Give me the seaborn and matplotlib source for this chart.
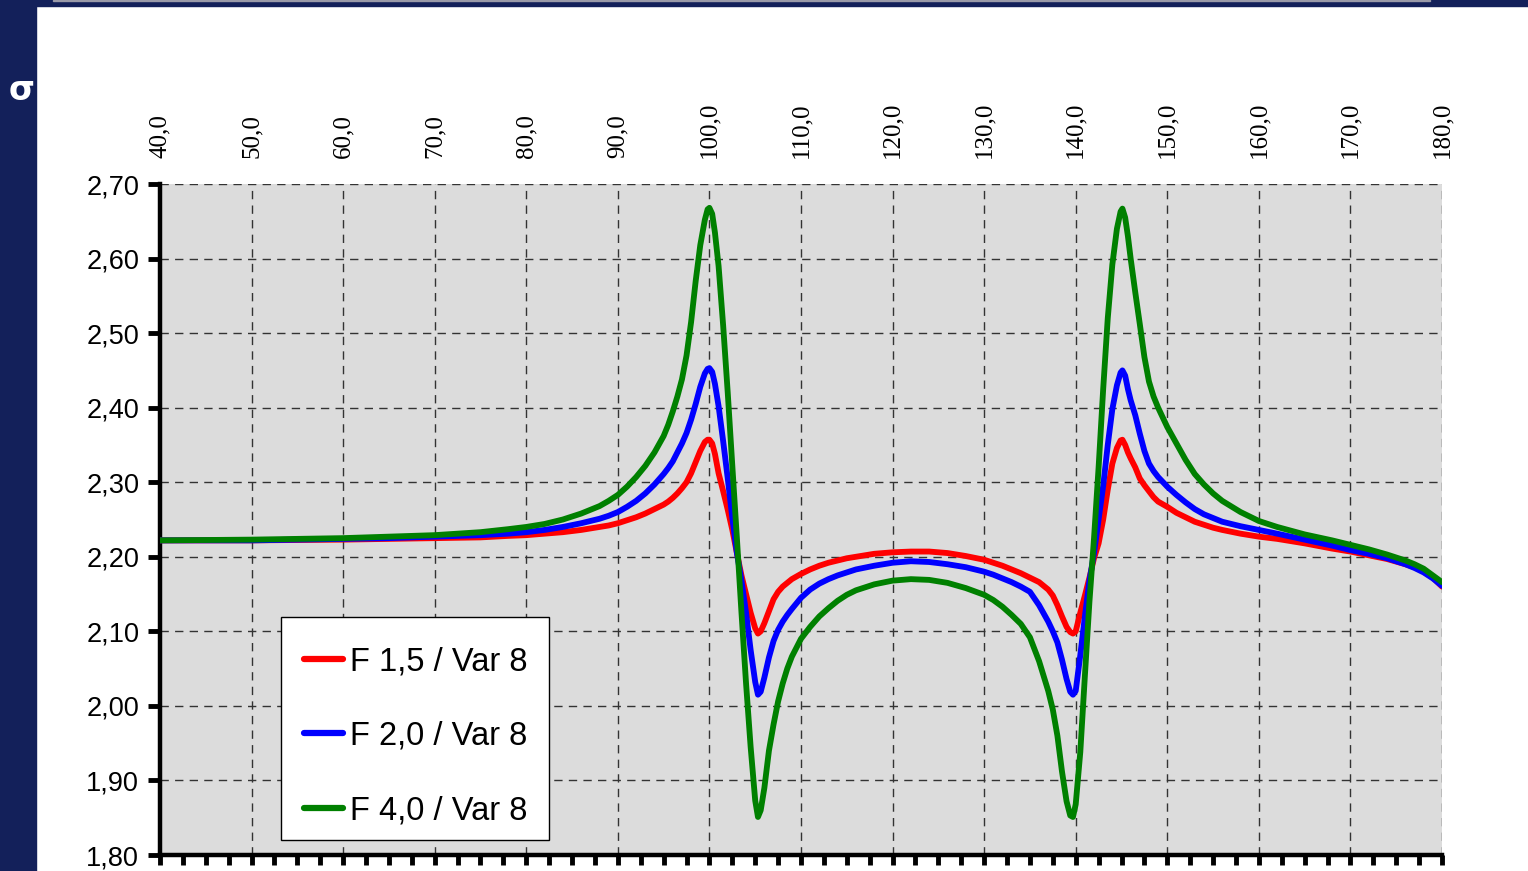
import numpy as np
import pandas as pd
import matplotlib
matplotlib.use("Agg")
import matplotlib.pyplot as plt
from matplotlib.patches import Rectangle
from matplotlib.ticker import MultipleLocator, FuncFormatter
import seaborn as sns

# ---------------- data ----------------
x_vals = [40, 50, 60, 65, 70, 75, 78, 80, 82, 84, 86, 88, 89, 90, 91, 92, 93, 94, 95, 95.5,
          96, 96.5, 97, 97.5, 98, 98.5, 99, 99.5, 99.8, 100, 100.3, 100.6, 101, 101.5, 102,
          102.5, 103, 103.5, 104, 104.5, 105, 105.3, 105.6, 106, 106.5, 107, 107.5, 108, 108.5,
          109, 110, 111, 112, 113, 114, 115, 116, 118, 120, 122, 124, 126, 128, 130, 131, 132,
          133, 134, 135, 136, 137, 137.5, 138, 138.5, 139, 139.4, 139.7, 140, 140.5, 141, 141.5,
          142, 142.5, 143, 143.5, 144, 144.5, 144.9, 145.1, 145.4, 145.7, 146, 146.5, 147, 147.5,
          148, 148.5, 149, 150, 151, 152, 153, 154, 155, 156, 158, 160, 162, 165, 168, 170, 172,
          174, 176, 177, 178, 179, 180]

f15_var8 = [2.222, 2.222, 2.223, 2.224, 2.225, 2.226, 2.228, 2.229, 2.231, 2.233, 2.236, 2.240, 2.242, 2.245, 2.249, 2.253, 2.258, 2.264, 2.270, 2.274,
            2.279, 2.285, 2.292, 2.300, 2.312, 2.327, 2.342, 2.354, 2.357, 2.357, 2.352, 2.338, 2.312, 2.288, 2.263,
            2.236, 2.205, 2.175, 2.150, 2.125, 2.104, 2.097, 2.100, 2.111, 2.127, 2.143, 2.153, 2.160, 2.165,
            2.170, 2.177, 2.183, 2.188, 2.192, 2.195, 2.198, 2.200, 2.204, 2.206, 2.207, 2.207, 2.205, 2.201, 2.196, 2.192, 2.188,
            2.183, 2.178, 2.172, 2.166, 2.156, 2.148, 2.135, 2.120, 2.106, 2.099, 2.097, 2.100, 2.125, 2.148, 2.172,
            2.198, 2.218, 2.250, 2.290, 2.325, 2.346, 2.356, 2.357, 2.350, 2.340, 2.332, 2.320, 2.305, 2.296,
            2.288, 2.280, 2.274, 2.267, 2.259, 2.253, 2.247, 2.243, 2.239, 2.236, 2.231, 2.227, 2.224, 2.218, 2.211, 2.207, 2.202,
            2.197, 2.190, 2.186, 2.180, 2.172, 2.160]

f20_var8 = [2.222, 2.222, 2.224, 2.225, 2.227, 2.229, 2.231, 2.233, 2.236, 2.240, 2.245, 2.251, 2.255, 2.260, 2.267, 2.275, 2.285, 2.297, 2.311, 2.319,
            2.328, 2.340, 2.352, 2.366, 2.384, 2.405, 2.428, 2.446, 2.452, 2.453, 2.448, 2.432, 2.402, 2.355, 2.305,
            2.252, 2.205, 2.168, 2.125, 2.075, 2.032, 2.015, 2.019, 2.038, 2.065, 2.087, 2.102, 2.113, 2.122,
            2.130, 2.145, 2.156, 2.164, 2.170, 2.175, 2.179, 2.183, 2.188, 2.192, 2.194, 2.193, 2.190, 2.186, 2.180, 2.176, 2.171,
            2.166, 2.160, 2.153, 2.135, 2.113, 2.100, 2.085, 2.062, 2.036, 2.019, 2.015, 2.020, 2.068, 2.120, 2.168,
            2.205, 2.250, 2.295, 2.350, 2.398, 2.430, 2.447, 2.450, 2.443, 2.425, 2.410, 2.390, 2.365, 2.342,
            2.325, 2.315, 2.307, 2.294, 2.283, 2.273, 2.264, 2.257, 2.252, 2.247, 2.241, 2.236, 2.231, 2.223, 2.215, 2.209, 2.204,
            2.198, 2.190, 2.185, 2.179, 2.171, 2.161]

f40_var8 = [2.222, 2.223, 2.225, 2.227, 2.229, 2.233, 2.237, 2.240, 2.244, 2.250, 2.258, 2.268, 2.275, 2.283, 2.294, 2.307, 2.322, 2.340, 2.362, 2.377,
            2.395, 2.415, 2.438, 2.470, 2.515, 2.570, 2.618, 2.652, 2.666, 2.668, 2.660, 2.635, 2.590, 2.510, 2.420,
            2.322, 2.225, 2.125, 2.030, 1.945, 1.873, 1.851, 1.860, 1.890, 1.940, 1.975, 2.006, 2.030, 2.050,
            2.066, 2.090, 2.106, 2.120, 2.131, 2.141, 2.149, 2.155, 2.163, 2.168, 2.170, 2.169, 2.165, 2.158, 2.149, 2.142, 2.133,
            2.122, 2.110, 2.092, 2.060, 2.020, 1.995, 1.960, 1.912, 1.872, 1.853, 1.851, 1.868, 1.938, 2.040, 2.140,
            2.225, 2.320, 2.425, 2.520, 2.592, 2.640, 2.663, 2.667, 2.655, 2.630, 2.600, 2.555, 2.512, 2.468,
            2.435, 2.415, 2.400, 2.374, 2.352, 2.330, 2.311, 2.297, 2.285, 2.275, 2.260, 2.248, 2.240, 2.230, 2.222, 2.216, 2.210,
            2.203, 2.195, 2.190, 2.184, 2.175, 2.166]

series_names = ["F 1,5 / Var 8", "F 2,0 / Var 8", "F 4,0 / Var 8"]
series_colors = ["#FF0000", "#0000FF", "#008000"]
x_ticks = [40, 50, 60, 70, 80, 90, 100, 110, 120, 130, 140, 150, 160, 170, 180]
y_ticks = [1.8, 1.9, 2.0, 2.1, 2.2, 2.3, 2.4, 2.5, 2.6, 2.7]

df = pd.concat([
    pd.DataFrame({"x": x_vals, "sigma": vals, "series": name})
    for name, vals in zip(series_names, [f15_var8, f20_var8, f40_var8])
], ignore_index=True)

# ---------------- figure ----------------
sns.set_style("white")
plt.rcParams["font.family"] = ["Liberation Sans", "DejaVu Sans"]
plt.rcParams["text.color"] = "black"

W, H = 1528, 871
fig = plt.figure(figsize=(W / 100, H / 100), dpi=100)
fig.patch.set_facecolor("white")

navy = "#13205A"
fig.patches.append(Rectangle((0, 0), 36 / W, 1, transform=fig.transFigure, color=navy, zorder=0))
fig.patches.append(Rectangle((0, 1 - 6 / H), 1, 6 / H, transform=fig.transFigure, color=navy, zorder=0))
fig.patches.append(Rectangle((53 / W, 1 - 1.2 / H), (1430 - 53) / W, 1.2 / H,
                             transform=fig.transFigure, color="#9A9AA8", zorder=1))
fig.text(21.5 / W, 1 - 90 / H, "σ", color="white", fontsize=24, fontweight="bold",
         family="DejaVu Sans", va="center", ha="center")

AX_L, AX_R, AX_T, AX_B = 160, 1442, 184, 855
ax = fig.add_axes([AX_L / W, (H - AX_B) / H, (AX_R - AX_L) / W, (AX_B - AX_T) / H])
ax.set_facecolor("#DCDCDC")

sns.lineplot(data=df, x="x", y="sigma", hue="series", palette=series_colors,
             hue_order=series_names, estimator=None, sort=False, linewidth=4.2, ax=ax,
             legend=True, zorder=3)
for ln in ax.get_lines():
    ln.set_solid_joinstyle("round")

ax.set_xlim(40, 180)
ax.set_ylim(1.8, 2.7)
ax.set_xlabel("")
ax.set_ylabel("")

ax.set_xticks(x_ticks)
ax.xaxis.set_minor_locator(MultipleLocator(2.5))
ax.set_yticks(y_ticks)
ax.xaxis.set_major_formatter(FuncFormatter(lambda v, p: f"{v:.1f}".replace(".", ",")))
ax.yaxis.set_major_formatter(FuncFormatter(lambda v, p: f"{v:.2f}".replace(".", ",")))

ax.tick_params(axis="x", which="both", bottom=True, top=False, labelbottom=False, labeltop=True,
               direction="out", length=7, width=3.5, color="black", labelcolor="black")
ax.tick_params(axis="x", which="major", labelrotation=90, pad=12, labelsize=18)
for lab in ax.get_xticklabels():
    lab.set_family("Liberation Serif")
ax.tick_params(axis="y", which="major", left=True, direction="out", length=9, width=3.5,
               labelsize=19.5, pad=6, color="black", labelcolor="black")

for side in ["top", "right"]:
    ax.spines[side].set_visible(False)
for side in ["left", "bottom"]:
    ax.spines[side].set_visible(True)
    ax.spines[side].set_color("black")
    ax.spines[side].set_linewidth(3.2)

ax.grid(True, which="major", color="#333333", linestyle=(0, (6, 4.5)), linewidth=1.0)
ax.set_axisbelow(True)

# legend box drawn as its own frame, entries placed inside it
def ax_frac(px, py):
    return (px - AX_L) / (AX_R - AX_L), (AX_B - py) / (AX_B - AX_T)

bx0, by0 = ax_frac(281, 840)
bx1, by1 = ax_frac(549, 617)
ax.add_patch(Rectangle((bx0, by0), bx1 - bx0, by1 - by0, transform=ax.transAxes,
                       facecolor="white", edgecolor="black", linewidth=1.0, zorder=4))

lx, ly = ax_frac(281, 849)
leg = ax.legend(loc="lower left", bbox_to_anchor=(lx, ly),
                borderaxespad=0, frameon=False, fontsize=23.5,
                handlelength=1.2, handletextpad=0.2, labelspacing=1.33, borderpad=0.7)
leg.set_zorder(5)
for t in leg.get_texts():
    t.set_color("black")
for h in leg.get_lines():
    h.set_linewidth(4.5)
    h.set_solid_capstyle("round")

fig.savefig("out.png", dpi=100, facecolor="white")
